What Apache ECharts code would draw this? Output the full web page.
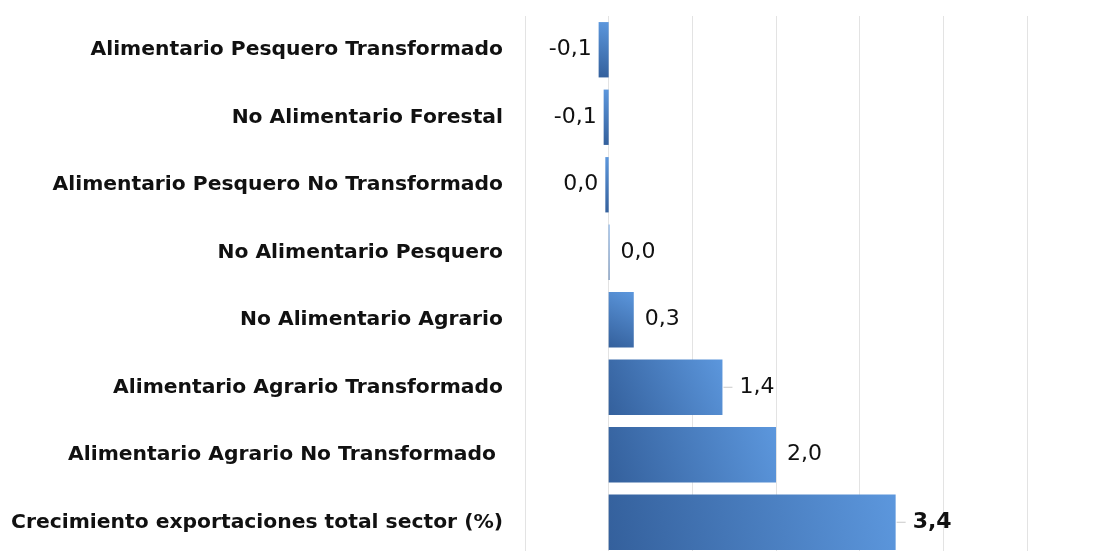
<!DOCTYPE html>
<html>
<head>
<meta charset="utf-8">
<script src="https://cdn.jsdelivr.net/npm/echarts@6/dist/echarts.min.js"></script>
<style>
  html, body { margin: 0; padding: 0; background: #fff; overflow: hidden; }
  #chart { width: 1098px; height: 560px; }
</style>
</head>
<body>
<div id="chart"></div>
<script>
  // categorias de arriba a abajo
  var categories = [
    'Alimentario Pesquero Transformado',
    'No Alimentario Forestal',
    'Alimentario Pesquero No Transformado',
    'No Alimentario Pesquero',
    'No Alimentario Agrario',
    'Alimentario Agrario Transformado',
    'Alimentario Agrario No Transformado ',
    'Crecimiento exportaciones total sector (%)'
  ]
  // crecimiento (%)
  var values = [-0.12, -0.06, -0.04, 0.01, 0.3, 1.36, 2.0, 3.43]
  // filas con linea guia (excel)
  var leaderRows = [5, 7]
  var axisMin = -1
  var axisMax = 5

  var fmt = function(v){
    var r = Math.round(v * 10) / 10
    if (r === 0) r = 0
    return r.toFixed(1).replace('.', ',')
  }

  var barColor = new echarts.graphic.LinearGradient(0, 1, 1, 0, [
    { offset: 0, color: '#34609c' },
    { offset: 1, color: '#5c97dd' }
  ])

  var seriesData = values.map(function(v, i){
    var item = {
      value: v,
      label: {
        position: v < 0 ? 'left' : 'right',
        distance: v < 0 ? 7 : 11
      }
    }
    if (leaderRows.indexOf(i) >= 0) item.label.distance = 1
    if (i === values.length - 1) item.label.fontWeight = 'bold'
    return item
  })

  var chart = echarts.init(document.getElementById('chart'))
  chart.setOption({
    animation: false,
    textStyle: { fontFamily: 'DejaVu Sans' },
    // el div es algo mas alto que la ventana: la ultima barra queda cortada como en el original
    grid: { left: 525, right: 71, top: 16, bottom: 4, containLabel: false },
    xAxis: {
      type: 'value',
      min: axisMin,
      max: axisMax,
      interval: 1,
      axisLabel: { show: false },
      axisLine: { show: false },
      axisTick: { show: false },
      splitLine: { lineStyle: { color: '#e3e3e3', width: 1 } }
    },
    yAxis: {
      type: 'category',
      inverse: true,
      data: categories,
      axisLine: { show: false, onZero: false },
      axisTick: { show: false },
      axisLabel: {
        margin: 22,
        color: '#111',
        fontWeight: 'bold',
        fontSize: 20.3,
        fontFamily: 'DejaVu Sans'
      }
    },
    series: [{
      type: 'bar',
      data: seriesData,
      barCategoryGap: '18%',
      itemStyle: { color: barColor },
      label: {
        show: true,
        color: '#111',
        fontSize: 22,
        fontFamily: 'DejaVu Sans',
        formatter: function(p){
          var txt = fmt(p.value)
          if (leaderRows.indexOf(p.dataIndex) >= 0) return '{d|}{g|}' + txt
          return txt
        },
        rich: {
          d: { width: 9, height: 1, backgroundColor: '#c9c9c9', verticalAlign: 'middle' },
          g: { width: 7, height: 1 }
        }
      }
    }]
  })
</script>
</body>
</html>
